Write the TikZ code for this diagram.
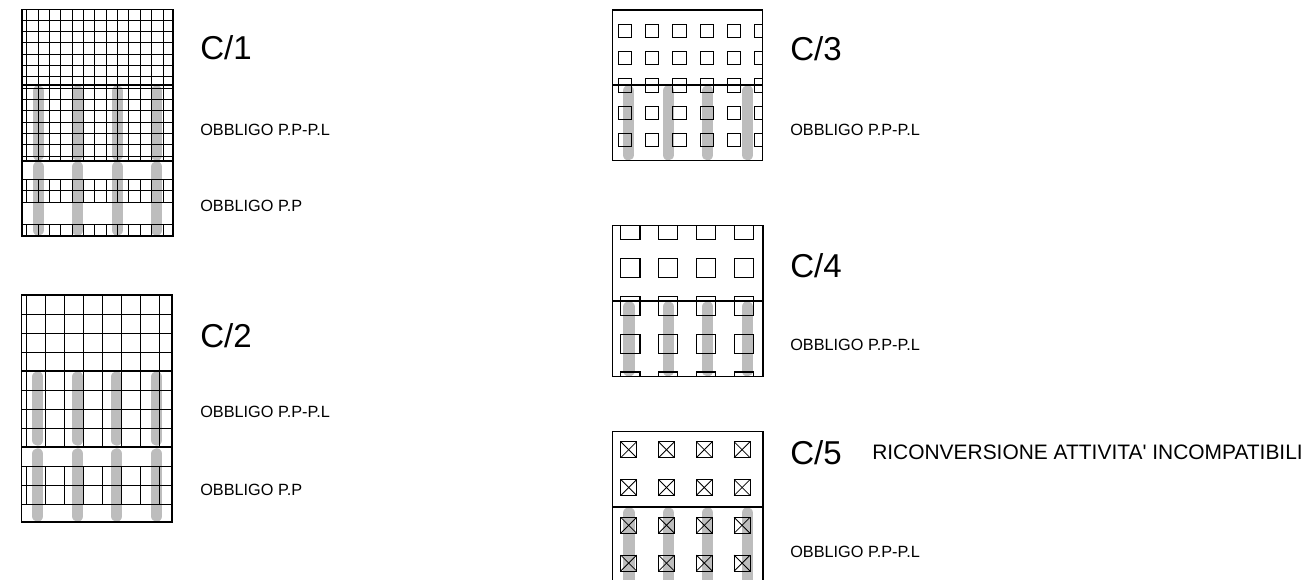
\documentclass[tikz,border=0pt]{standalone}
\usepackage{fontspec}
\setmainfont{Liberation Sans}[Ligatures=TeXOff]
\definecolor{bargray}{HTML}{BDBDBD}
\begin{document}
\begin{tikzpicture}[x=0.75pt,y=-0.75pt,
  frame/.style={draw=black,line width=0.9pt},
  gridline/.style={draw=black,line width=0.7pt},
  sq/.style={draw=black,line width=0.8pt},
  bar/.style={draw=bargray,line width=8.6pt,line cap=round},
  title/.style={font=\fontsize{24.8}{28}\selectfont,anchor=base west,inner sep=0pt},
  lbl/.style={font=\fontsize{12.2}{14}\selectfont,anchor=base west,inner sep=0pt},
  sub/.style={font=\fontsize{15.7}{18}\selectfont,anchor=base west,inner sep=0pt}]
\useasboundingbox (0,0) rectangle (1308,580);

% ---------------- C/1 ----------------
\foreach \x in {38.3,77.7,117.3,156.7}{
  \draw[bar] (\x,91) -- (\x,155);
  \draw[bar] (\x,167) -- (\x,230);
}
\foreach \i in {0,...,12}{
  \draw[gridline] ({26.7+11.36*\i},9.5) -- ({26.7+11.36*\i},161);
  \draw[gridline] ({26.7+11.36*\i},179.3) -- ({26.7+11.36*\i},202);
  \draw[gridline] ({26.7+11.36*\i},224.7) -- ({26.7+11.36*\i},236);
}
\foreach \y in {20,31.3,42.7,54,65.3,76.7,88,99.3,110.7,122,133.3,144.7,156,179.3,190.7,202,224.7}
  \draw[gridline] (22,\y) -- (173,\y);
\draw[frame] (22,9.5) rectangle (173,236);
\draw[frame] (22,85) -- (173,85);
\draw[frame] (22,161) -- (173,161);

% ---------------- C/2 ----------------
\foreach \x in {37.7,77.7,116.7,156.7}{
  \draw[bar] (\x,377) -- (\x,440);
  \draw[bar] (\x,454) -- (\x,516);
}
\foreach \i in {0,...,7}{
  \draw[gridline] ({26.7+19*\i},295) -- ({26.7+19*\i},447);
  \draw[gridline] ({26.7+19*\i},466) -- ({26.7+19*\i},504);
}
\foreach \y in {314,333,352,390,409,428,466,485,504}
  \draw[gridline] (21.7,\y) -- (172,\y);
\draw[frame] (21.7,295) rectangle (172,522);
\draw[frame] (21.7,371) -- (172,371);
\draw[frame] (21.7,447) -- (172,447);

% ---------------- C/3 ----------------
\foreach \x in {628.3,668.3,707.7,747.7}
  \draw[bar] (\x,91) -- (\x,154.7);
\begin{scope}
  \clip (612.3,10) rectangle (762.3,160.7);
  \foreach \c in {0,...,5}
    \foreach \r in {-1,...,5}
      \draw[sq] ({618.3+27.3*\c},{24.3+27.3*\r}) rectangle ++(13.3,13.3);
\end{scope}
\draw[frame] (612.3,10) rectangle (762.3,160.7);
\draw[frame] (612.3,85) -- (762.3,85);

% ---------------- C/4 ----------------
\foreach \x in {629,668.3,707.7,747.3}
  \draw[bar] (\x,307) -- (\x,370.7);
\begin{scope}
  \clip (612.3,225.7) rectangle (763,376.7);
  \foreach \c in {0,...,3}
    \foreach \r in {0,...,4}
      \draw[sq] ({620.7+37.8*\c},{220.4+37.9*\r}) rectangle ++(19.3,19.3);
\end{scope}
\draw[frame] (612.3,225.7) rectangle (763,376.7);
\draw[frame] (612.3,301) -- (763,301);

% ---------------- C/5 ----------------
\begin{scope}
  \clip (0,0) rectangle (1308,580);
  \foreach \x in {629,668.3,707.7,747.3}
    \draw[bar] (\x,513) -- (\x,600);
  \foreach \c in {0,...,3}
    \foreach \r in {0,...,3}{
      \draw[sq] ({620.7+37.8*\c},{441.7+37.8*\r}) rectangle ++(16,16);
      \draw[gridline,line width=0.6pt] ({620.7+37.8*\c},{441.7+37.8*\r}) -- ++(16,16);
      \draw[gridline,line width=0.6pt] ({636.7+37.8*\c},{441.7+37.8*\r}) -- ++(-16,16);
    }
  \draw[frame] (612.3,590) -- (612.3,431.7) -- (763,431.7) -- (763,590);
  \draw[frame] (612.3,507) -- (763,507);
\end{scope}

% ---------------- texts ----------------
\node[title] (t1) at (200,60) {C/1};
\node[lbl] (t1a) at (200,135.7) {OBBLIGO P.P-P.L};
\node[lbl] (t1b) at (200,212) {OBBLIGO P.P};
\node[title] (t2) at (200,347.5) {C/2};
\node[lbl] (t2a) at (200,417) {OBBLIGO P.P-P.L};
\node[lbl] (t2b) at (200,495) {OBBLIGO P.P};
\node[title] (t3) at (790,60.5) {C/3};
\node[lbl] (t3a) at (790,136) {OBBLIGO P.P-P.L};
\node[title] (t4) at (790,277.5) {C/4};
\node[lbl] (t4a) at (790,350) {OBBLIGO P.P-P.L};
\node[title] (t5) at (790,464.5) {C/5};
\node[sub] (t5s) at (872,459.4) {RICONVERSIONE ATTIVITA' INCOMPATIBILI};
\node[lbl] (t5a) at (790,557) {OBBLIGO P.P-P.L};
\end{tikzpicture}
\end{document}
